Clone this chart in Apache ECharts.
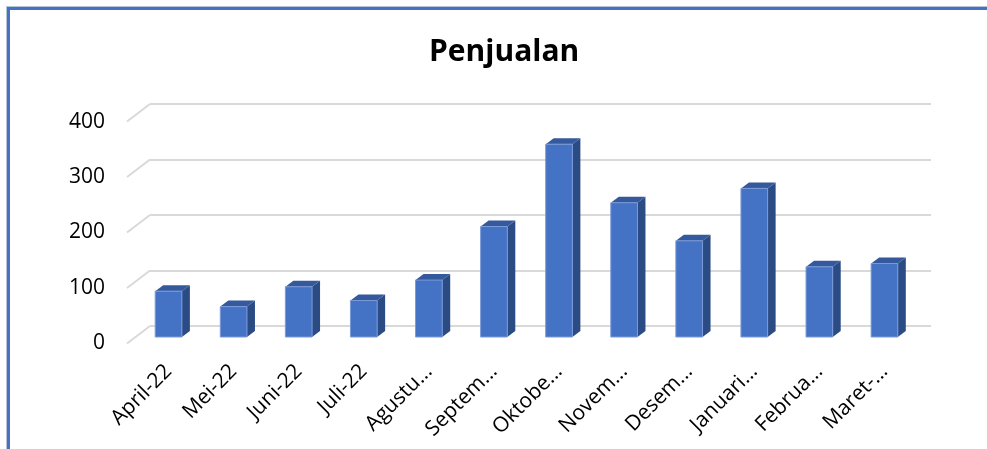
<!DOCTYPE html>
<html>
<head>
<meta charset="utf-8">
<script src="https://cdn.jsdelivr.net/npm/echarts@6/dist/echarts.min.js"></script>
<style>
  html, body { margin: 0; padding: 0; background: #fff; }
  #wrap { position: relative; width: 987px; height: 449px; overflow: hidden; }
  #chart { position: absolute; left: 0; top: 0; width: 987px; height: 449px; }
  #frame { position: absolute; left: 7px; top: 7px; width: 990px; height: 460px;
           border-top: 3px solid #4472c4; border-left: 3px solid #4472c4;
           box-shadow: -1px -1px 0 #b9c3d6; pointer-events: none; }
</style>
</head>
<body>
<div id="wrap">
  <div id="chart"></div>
  <div id="frame"></div>
</div>
<script>
const title = 'Penjualan';
const categories = ['April-22', 'Mei-22', 'Juni-22', 'Juli-22', 'Agustu...', 'Septem...',
                    'Oktobe...', 'Novem...', 'Desem...', 'Januari...', 'Februa...', 'Maret-...'];
const values = [83, 55, 91, 66, 103, 200, 349, 243, 174, 269, 127, 133];
const yTicks = [0, 100, 200, 300, 400];
const yMin = 0, yMax = 400, yStep = 100;

const FONT = 'Open Sans';
const DX = 8, DY = 6;          // bar depth offset
const WALL_DX = 23, WALL_DY = 17.5; // side wall depth

const chart = echarts.init(document.getElementById('chart'), null, { renderer: 'canvas' });

chart.setOption({
  animation: false,
  backgroundColor: '#ffffff',
  title: {
    text: title, left: 424, top: 32,
    textStyle: { fontFamily: FONT, fontWeight: 'bold', fontSize: 30, color: '#000' }
  },
  grid: [
    { left: 150, right: 56, top: 104, bottom: 123 },   // back wall
    { left: 127, right: 79, top: 122, bottom: 106 },   // front plane (labels)
    { left: 136, right: 70, top: 116, bottom: 112 }    // bars
  ],
  xAxis: [
    { gridIndex: 0, type: 'value', min: 0, max: 1, show: false },
    { gridIndex: 1, type: 'value', min: 0, max: 1, show: false },
    { gridIndex: 2, type: 'category', data: categories,
      axisLine: { show: false }, axisTick: { show: false },
      axisLabel: { interval: 0, rotate: 45, margin: 31, fontFamily: FONT, fontSize: 21, color: '#000' } }
  ],
  yAxis: [
    { gridIndex: 0, type: 'value', min: yMin, max: yMax, interval: yStep,
      axisLine: { show: false }, axisTick: { show: false }, axisLabel: { show: false },
      splitLine: { show: true, lineStyle: { color: '#d9d9d9', width: 2 } } },
    { gridIndex: 1, type: 'value', min: yMin, max: yMax, interval: yStep,
      axisLine: { show: false }, axisTick: { show: false }, splitLine: { show: false },
      axisLabel: { margin: 22, fontFamily: FONT, fontSize: 21, color: '#000' } },
    { gridIndex: 2, type: 'value', min: yMin, max: yMax, interval: yStep, show: false }
  ],
  series: [
    {
      type: 'custom', xAxisIndex: 0, yAxisIndex: 0,
      data: yTicks.map(v => [0, v]),
      renderItem: function (params, api) {
        const p = api.coord([0, api.value(1)]);
        return {
          type: 'line',
          shape: { x1: p[0] - WALL_DX, y1: p[1] + WALL_DY, x2: p[0], y2: p[1] },
          style: { stroke: '#d9d9d9', lineWidth: 2 }
        };
      }
    },
    {
      type: 'custom', xAxisIndex: 2, yAxisIndex: 2,
      data: values.map((v, i) => [i, v]),
      renderItem: function (params, api) {
        const i = api.value(0), v = api.value(1);
        const top = api.coord([i, v]);
        const base = api.coord([i, 0]);
        const w = api.size([1, 0])[0] * 0.41;
        const x0 = top[0] - w / 2, x1 = top[0] + w / 2;
        const y0 = top[1], y1 = base[1];
        return {
          type: 'group',
          children: [
            { type: 'polygon',
              shape: { points: [[x1, y0], [x1 + DX, y0 - DY], [x1 + DX, y1 - DY], [x1, y1]] },
              style: { fill: '#2b4b84' } },
            { type: 'polygon',
              shape: { points: [[x0, y0], [x0 + DX, y0 - DY], [x1 + DX, y0 - DY], [x1, y0]] },
              style: { fill: '#34599c' } },
            { type: 'rect',
              shape: { x: x0, y: y0, width: w, height: y1 - y0 },
              style: { fill: '#4472c4', stroke: '#7b9ad8', lineWidth: 1 } }
          ]
        };
      }
    }
  ]
});
</script>
</body>
</html>
